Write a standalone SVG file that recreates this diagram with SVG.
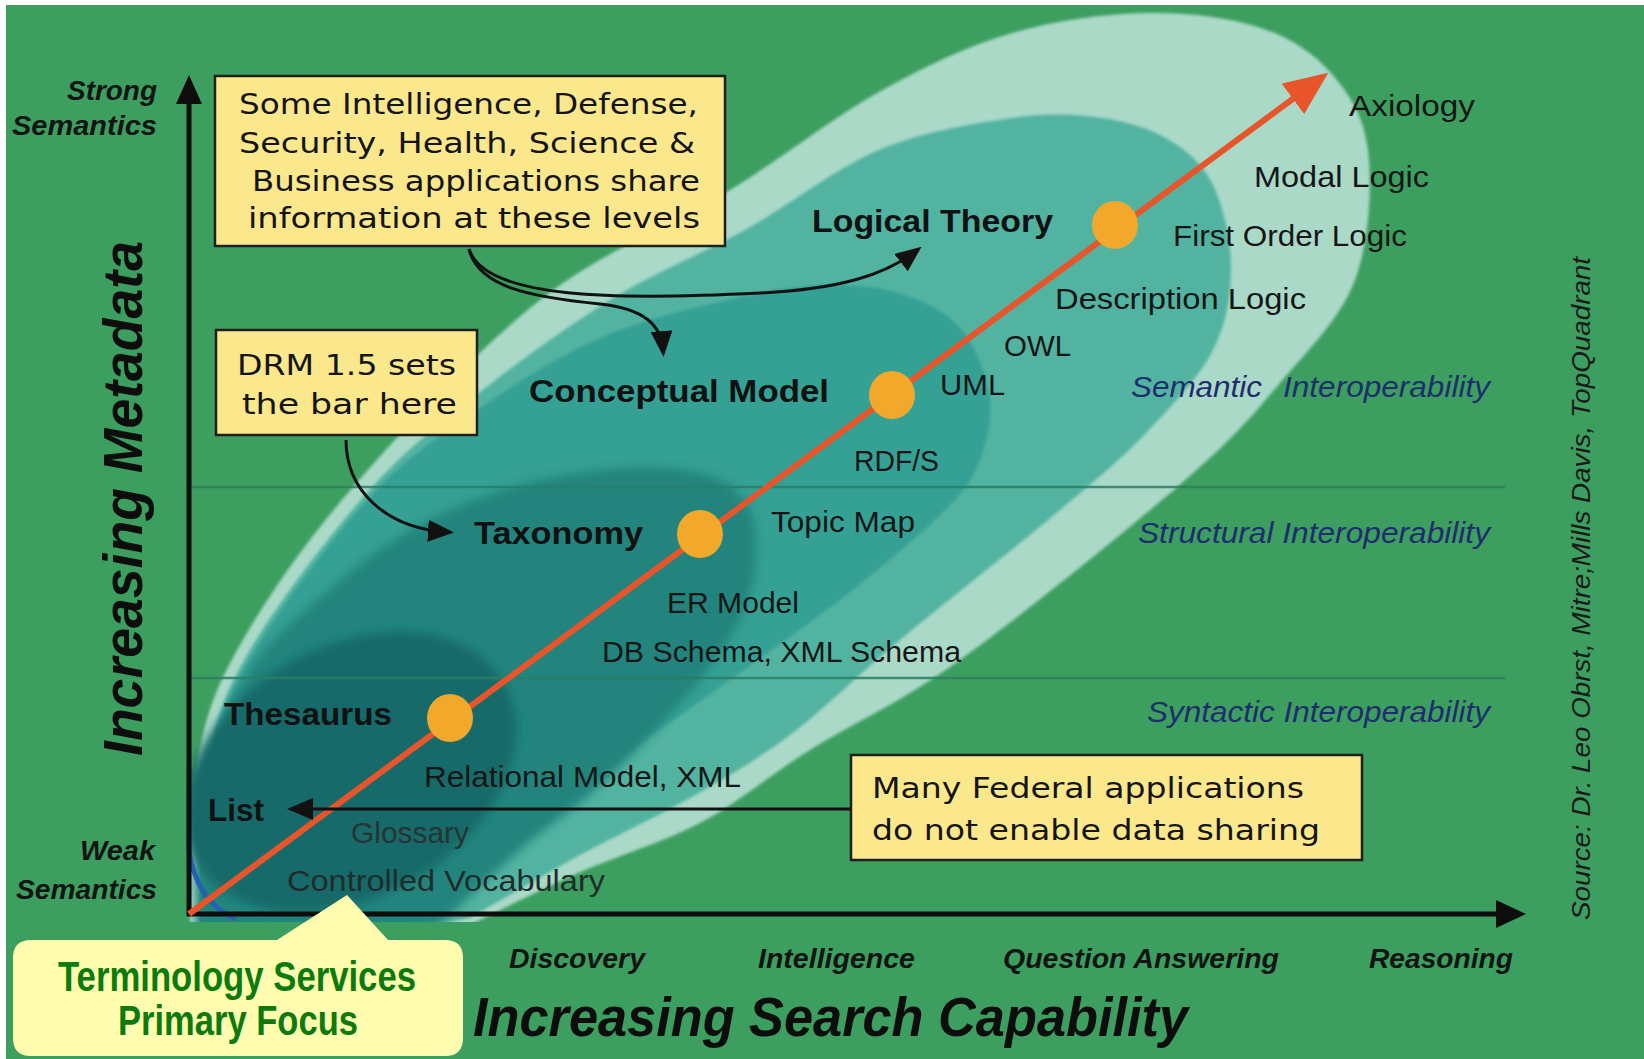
<svg xmlns="http://www.w3.org/2000/svg" width="1644" height="1059" viewBox="0 0 1644 1059">
<style>
.lbl{font-family:"Liberation Sans",Arial,sans-serif;font-size:30px;fill:#161616}
.bl{font-family:"Liberation Sans",Arial,sans-serif;font-size:32px;font-weight:bold;fill:#111}
.io{font-family:"Liberation Sans",Arial,sans-serif;font-size:29px;font-style:italic;fill:#1f2d6e}
.ax{font-family:"Liberation Sans",Arial,sans-serif;font-size:27px;font-weight:bold;font-style:italic;fill:#141414}
.big{font-family:"Liberation Sans",Arial,sans-serif;font-size:55px;font-weight:bold;font-style:italic;fill:#0d0d0d}
.box{fill:#fce88c;stroke:#1e1e1e;stroke-width:2.5}
.bt{font-family:"DejaVu Sans","Liberation Sans",sans-serif;font-size:29px;fill:#141414}
.gt{font-family:"Liberation Sans",Arial,sans-serif;font-size:42px;font-weight:bold;fill:#0c7a0c}
.con{fill:none;stroke:#111;stroke-width:3}
</style>
<defs>
<marker id="ah" markerUnits="userSpaceOnUse" markerWidth="26" markerHeight="22" refX="19" refY="11" orient="auto"><path d="M0,0 L26,11 L0,22 Z" fill="#111"/></marker>
<marker id="oh" markerUnits="userSpaceOnUse" markerWidth="44" markerHeight="38" refX="30" refY="19" orient="auto"><path d="M0,0 L44,19 L0,38 Z" fill="#e8552a"/></marker>
<clipPath id="plot"><rect x="186" y="0" width="1458" height="922"/></clipPath>
<filter id="soft" x="-10%" y="-10%" width="120%" height="120%"><feGaussianBlur stdDeviation="5"/></filter>
<filter id="soft2" x="-5%" y="-5%" width="110%" height="110%"><feGaussianBlur stdDeviation="1.5"/></filter>
</defs>
<rect x="0" y="0" width="1644" height="1059" fill="#ffffff"/>
<rect x="6" y="5" width="1638" height="1054" fill="#3d9f5f"/>

<g id="regions" clip-path="url(#plot)">
<path id="level-axiology" filter="url(#soft2)" fill="#aad9c8" d="M190 920 C191.3 893.3 189.7 805.8 198 760 C206.3 714.2 214.2 690.5 240 645 C265.8 599.5 303 544.5 353 487 C403 429.5 477.2 349.5 540 300 C602.8 250.5 673.5 224.7 730 190 C786.5 155.3 832 118.2 879 92 C926 65.8 967.5 46.2 1012 33 C1056.5 19.8 1105 14 1146 13 C1187 12 1227.3 17.2 1258 27 C1288.7 36.8 1311.7 51.5 1330 72 C1348.3 92.5 1363.8 115.3 1368 150 C1372.2 184.7 1369.7 241.2 1355 280 C1340.3 318.8 1308.7 349.3 1280 383 C1251.3 416.7 1236.3 435.8 1183 482 C1129.7 528.2 1022.2 615.3 960 660 C897.8 704.7 853.3 722.8 810 750 C766.7 777.2 738.7 802.5 700 823 C661.3 843.5 616.3 856 578 873 C539.7 890 488 916.3 470 925 L300 950 L190 950 Z"/>
<path id="level-logical" filter="url(#soft2)" fill="#52b3a1" d="M200 920 C201.2 894.2 198.7 810 207 765 C215.3 720 223.7 695 250 650 C276.3 605 328.3 536.7 365 495 C401.7 453.3 429.2 432.5 470 400 C510.8 367.5 564.2 328.3 610 300 C655.8 271.7 700.2 255 745 230 C789.8 205 834.5 168.7 879 150 C923.5 131.3 974.8 123.3 1012 118 C1049.2 112.7 1075.8 114.3 1102 118 C1128.2 121.7 1150.5 128.8 1169 140 C1187.5 151.2 1202.7 163.8 1213 185 C1223.3 206.2 1231 239.5 1231 267 C1231 294.5 1227.2 322.3 1213 350 C1198.8 377.7 1171.5 406.3 1146 433 C1120.5 459.7 1101 475.5 1060 510 C1019 544.5 945 602.5 900 640 C855 677.5 825 708.7 790 735 C755 761.3 725 778 690 798 C655 818 616.7 835 580 855 C543.3 875 488.3 907.5 470 918 L300 950 L200 950 Z"/>
<path id="level-conceptual" filter="url(#soft2)" fill="#36a094" d="M200 920 C201.3 895 199.3 814.2 208 770 C216.7 725.8 225.5 700 252 655 C278.5 610 330.7 540 367 500 C403.3 460 431.2 442 470 415 C508.8 388 554.2 357.8 600 338 C645.8 318.2 706 304.8 745 296 C784 287.2 807.3 285.2 834 285 C860.7 284.8 883.7 287.5 905 295 C926.3 302.5 947.8 312.5 962 330 C976.2 347.5 987.5 377.2 990 400 C992.5 422.8 985.3 447.8 977 467 C968.7 486.2 961.2 494.2 940 515 C918.8 535.8 885 564.5 850 592 C815 619.5 770 651.2 730 680 C690 708.8 648.3 737.5 610 765 C571.7 792.5 530 818.3 500 845 C470 871.7 441.7 911.7 430 925 L300 950 L200 950 Z"/>
<path id="level-taxonomy" filter="url(#soft)" fill="#20847d" d="M196 915 C196.7 894.2 191 830.8 200 790 C209 749.2 227.5 704.2 250 670 C272.5 635.8 306.7 609.2 335 585 C363.3 560.8 389.2 541.7 420 525 C450.8 508.3 485.2 494.5 520 485 C554.8 475.5 598 469.7 629 468 C660 466.3 686.8 469.7 706 475 C725.2 480.3 735.7 489 744 500 C752.3 511 755.3 524.3 756 541 C756.7 558 754.8 580.2 748 600 C741.2 619.8 729.7 639.2 715 660 C700.3 680.8 680 703.3 660 725 C640 746.7 618.3 769.2 595 790 C571.7 810.8 545.8 827.5 520 850 C494.2 872.5 453.3 912.5 440 925 L300 950 L196 950 Z"/>
<ellipse id="level-thesaurus" cx="0" cy="0" rx="178" ry="125" transform="translate(350,772) rotate(-30)" fill="#196a69" filter="url(#soft)"/>
<path d="M187 830 Q190 900 236 919" fill="none" stroke="#2660b0" stroke-width="5"/>
</g>

<g id="dividers" stroke="#2b7f63" stroke-width="2.5" opacity="0.85">
<line x1="191" y1="487" x2="1505" y2="487"/>
<line x1="191" y1="678" x2="1505" y2="678"/>
</g>

<g id="axes">
<line x1="189" y1="916" x2="189" y2="100" stroke="#0d0d0d" stroke-width="5"/>
<polygon points="189,75 176,104 202,104" fill="#0d0d0d"/>
<line x1="187" y1="914" x2="1500" y2="914" stroke="#0d0d0d" stroke-width="5"/>
<polygon points="1526,914 1496,900 1496,928" fill="#0d0d0d"/>
</g>

<g id="axis-labels">
<text class="ax" x="157" y="100" text-anchor="end" textLength="90" lengthAdjust="spacingAndGlyphs">Strong</text>
<text class="ax" x="157" y="135" text-anchor="end" textLength="145" lengthAdjust="spacingAndGlyphs">Semantics</text>
<text class="ax" x="155" y="860" text-anchor="end" textLength="75" lengthAdjust="spacingAndGlyphs">Weak</text>
<text class="ax" x="157" y="899" text-anchor="end" textLength="141" lengthAdjust="spacingAndGlyphs">Semantics</text>
<text class="ax" x="509" y="968" textLength="136" lengthAdjust="spacingAndGlyphs">Discovery</text>
<text class="ax" x="758" y="968" textLength="157" lengthAdjust="spacingAndGlyphs">Intelligence</text>
<text class="ax" x="1003" y="968" textLength="276" lengthAdjust="spacingAndGlyphs">Question Answering</text>
<text class="ax" x="1369" y="968" textLength="144" lengthAdjust="spacingAndGlyphs">Reasoning</text>
<text class="big" x="473" y="1036" textLength="715" lengthAdjust="spacingAndGlyphs">Increasing Search Capability</text>
<text class="big" transform="translate(142,756) rotate(-90)" x="0" y="0" textLength="515" lengthAdjust="spacingAndGlyphs">Increasing Metadata</text>
<text transform="translate(1590,920) rotate(-90)" x="0" y="0" font-family="Liberation Sans, Arial, sans-serif" font-size="25" font-style="italic" fill="#1a1a1a" textLength="663" lengthAdjust="spacingAndGlyphs">Source: Dr. Leo Obrst, Mitre;Mills Davis, TopQuadrant</text>
</g>

<g id="interop-labels">
<text class="io" x="1131" y="397" textLength="131" lengthAdjust="spacingAndGlyphs">Semantic</text>
<text class="io" x="1283" y="397" textLength="207" lengthAdjust="spacingAndGlyphs">Interoperability</text>
<text class="io" x="1138" y="543" textLength="352" lengthAdjust="spacingAndGlyphs">Structural Interoperability</text>
<text class="io" x="1147" y="722" textLength="343" lengthAdjust="spacingAndGlyphs">Syntactic Interoperability</text>
</g>

<g id="connectors">
<line x1="189" y1="914" x2="1317" y2="81" stroke="#e8552a" stroke-width="6" marker-end="url(#oh)"/>
<path class="con" d="M469 249 C485 300 620 300 760 293 C840 289 885 275 916 251" marker-end="url(#ah)"/>
<path class="con" d="M469 249 C478 287 530 297 600 304 C645 309 661 325 663 350" marker-end="url(#ah)"/>
<path class="con" d="M346 440 C346 490 385 528 447 532" marker-end="url(#ah)"/>
<path class="con" d="M851 809 L294 809" marker-end="url(#ah)"/>
</g>

<g id="dots" fill="#f2a82a">
<ellipse cx="1115" cy="225" rx="23" ry="24"/>
<ellipse cx="892" cy="395" rx="23" ry="24"/>
<ellipse cx="700" cy="534" rx="23" ry="24"/>
<ellipse cx="450" cy="718" rx="23" ry="24"/>
</g>

<g id="level-labels">
<text class="lbl" x="1349" y="116" textLength="126" lengthAdjust="spacingAndGlyphs">Axiology</text>
<text class="lbl" x="1254" y="187" textLength="175" lengthAdjust="spacingAndGlyphs">Modal Logic</text>
<text class="lbl" x="1173" y="246" textLength="234" lengthAdjust="spacingAndGlyphs">First Order Logic</text>
<text class="lbl" x="1055" y="309" textLength="251" lengthAdjust="spacingAndGlyphs">Description Logic</text>
<text class="lbl" x="1004" y="356" textLength="67" lengthAdjust="spacingAndGlyphs">OWL</text>
<text class="lbl" x="940" y="395" textLength="65" lengthAdjust="spacingAndGlyphs">UML</text>
<text class="lbl" x="854" y="471" textLength="85" lengthAdjust="spacingAndGlyphs">RDF/S</text>
<text class="lbl" x="771" y="532" textLength="144" lengthAdjust="spacingAndGlyphs">Topic Map</text>
<text class="lbl" x="667" y="613" textLength="132" lengthAdjust="spacingAndGlyphs">ER Model</text>
<text class="lbl" x="602" y="662" textLength="359" lengthAdjust="spacingAndGlyphs">DB Schema, XML Schema</text>
<text class="lbl" x="424" y="787" textLength="317" lengthAdjust="spacingAndGlyphs">Relational Model, XML</text>
<text class="lbl" x="351" y="843" textLength="118" lengthAdjust="spacingAndGlyphs" style="fill:#263433">Glossary</text>
<text class="lbl" x="287" y="891" textLength="318" lengthAdjust="spacingAndGlyphs" style="fill:#1f2c2b">Controlled Vocabulary</text>
<text class="bl" x="812" y="232" textLength="241" lengthAdjust="spacingAndGlyphs">Logical Theory</text>
<text class="bl" x="529" y="402" textLength="300" lengthAdjust="spacingAndGlyphs">Conceptual Model</text>
<text class="bl" x="474" y="544" textLength="169" lengthAdjust="spacingAndGlyphs">Taxonomy</text>
<text class="bl" x="224" y="725" textLength="168" lengthAdjust="spacingAndGlyphs">Thesaurus</text>
<text class="bl" x="208" y="821" textLength="56" lengthAdjust="spacingAndGlyphs">List</text>
</g>

<g id="box-share">
<rect class="box" x="215" y="76" width="510" height="170"/>
<text class="bt" x="239" y="114" textLength="459" lengthAdjust="spacingAndGlyphs">Some Intelligence, Defense,</text>
<text class="bt" x="239" y="153" textLength="456" lengthAdjust="spacingAndGlyphs">Security, Health, Science &amp;</text>
<text class="bt" x="252" y="191" textLength="448" lengthAdjust="spacingAndGlyphs">Business applications share</text>
<text class="bt" x="248" y="228" textLength="452" lengthAdjust="spacingAndGlyphs">information at these levels</text>
</g>

<g id="box-drm">
<rect class="box" x="216" y="330" width="261" height="105"/>
<text class="bt" x="237" y="375" textLength="219" lengthAdjust="spacingAndGlyphs">DRM 1.5 sets</text>
<text class="bt" x="242" y="414" textLength="215" lengthAdjust="spacingAndGlyphs">the bar here</text>
</g>

<g id="box-federal">
<rect class="box" x="851" y="755" width="511" height="105"/>
<text class="bt" x="872" y="798" textLength="432" lengthAdjust="spacingAndGlyphs">Many Federal applications</text>
<text class="bt" x="872" y="840" textLength="448" lengthAdjust="spacingAndGlyphs">do not enable data sharing</text>
</g>

<g id="callout-terminology">
<path d="M31 940 L277 940 L347 895 L388 940 L445 940 Q463 940 463 958 L463 1038 Q463 1056 445 1056 L31 1056 Q13 1056 13 1038 L13 958 Q13 940 31 940 Z" fill="#fffcaf"/>
<text class="gt" x="58" y="991" textLength="358" lengthAdjust="spacingAndGlyphs">Terminology Services</text>
<text class="gt" x="118" y="1035" textLength="240" lengthAdjust="spacingAndGlyphs">Primary Focus</text>
</g>
</svg>
